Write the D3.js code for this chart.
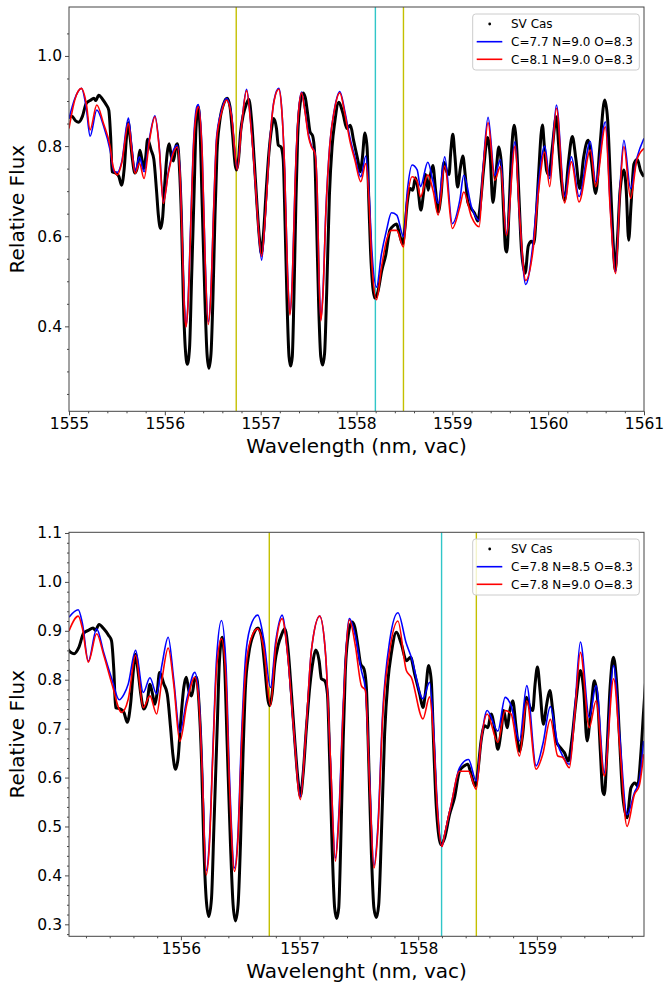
<!DOCTYPE html>
<html>
<head>
<meta charset="utf-8">
<script src="https://cdn.jsdelivr.net/npm/d3@7"></script>
<style>
  body { margin: 0; background: #fff; }
  svg { display: block; font-family: "DejaVu Sans", sans-serif; }
</style>
</head>
<body>
<svg id="chart" width="665" height="984"></svg>
<script>
// Observed spectrum (SV Cas), [wavelength nm, relative flux]
const svCas = [
  [1555.00,0.862],[1555.03,0.866],[1555.07,0.856],[1555.10,0.853],[1555.14,0.866],[1555.18,0.895],
  [1555.22,0.901],[1555.26,0.906],[1555.28,0.901],[1555.31,0.913],[1555.35,0.904],[1555.39,0.891],
  [1555.415,0.880],[1555.435,0.819],[1555.45,0.743],[1555.49,0.740],[1555.52,0.733],[1555.548,0.713],
  [1555.576,0.750],[1555.60,0.820],[1555.618,0.852],[1555.64,0.815],[1555.66,0.774],[1555.688,0.740],
  [1555.717,0.757],[1555.739,0.791],[1555.758,0.774],[1555.781,0.750],[1555.80,0.774],[1555.82,0.815],
  [1555.857,0.791],[1555.885,0.771],[1555.913,0.702],[1555.932,0.648],[1555.955,0.617],[1555.977,0.641],
  [1555.997,0.709],[1556.025,0.785],[1556.045,0.805],[1556.067,0.778],[1556.09,0.767],[1556.118,0.802],
  [1556.132,0.805],[1556.151,0.757],[1556.174,0.634],[1556.193,0.463],[1556.213,0.353],[1556.235,0.316],
  [1556.258,0.353],[1556.278,0.497],[1556.306,0.702],[1556.325,0.839],[1556.348,0.887],[1556.367,0.839],
  [1556.39,0.668],[1556.418,0.463],[1556.44,0.340],[1556.46,0.307],[1556.482,0.340],[1556.502,0.463],
  [1556.522,0.634],[1556.544,0.785],[1556.572,0.853],[1556.614,0.894],[1556.65,0.906],[1556.68,0.887],
  [1556.707,0.826],[1556.735,0.757],[1556.749,0.747],[1556.769,0.771],[1556.791,0.832],[1556.819,0.870],
  [1556.847,0.891],[1556.876,0.904],[1556.904,0.860],[1556.932,0.771],[1556.96,0.675],[1556.988,0.593],
  [1557.007,0.562],[1557.03,0.607],[1557.058,0.702],[1557.086,0.785],[1557.114,0.839],[1557.136,0.861],
  [1557.165,0.839],[1557.184,0.802],[1557.212,0.798],[1557.235,0.771],[1557.254,0.634],[1557.274,0.463],
  [1557.296,0.333],[1557.313,0.312],[1557.33,0.333],[1557.347,0.463],[1557.367,0.668],[1557.386,0.819],
  [1557.414,0.897],[1557.442,0.918],[1557.465,0.908],[1557.493,0.867],[1557.515,0.832],[1557.543,0.822],
  [1557.563,0.785],[1557.583,0.634],[1557.605,0.449],[1557.627,0.333],[1557.647,0.314],[1557.667,0.340],
  [1557.689,0.476],[1557.717,0.689],[1557.745,0.798],[1557.773,0.853],[1557.816,0.897],[1557.858,0.873],
  [1557.90,0.839],[1557.936,0.846],[1557.97,0.812],[1558.012,0.771],[1558.04,0.743],[1558.06,0.771],
  [1558.088,0.829],[1558.11,0.798],[1558.13,0.668],[1558.147,0.565],[1558.166,0.497],[1558.189,0.463],
  [1558.222,0.476],[1558.264,0.524],[1558.306,0.559],[1558.348,0.613],[1558.39,0.624],[1558.418,0.627],
  [1558.446,0.607],[1558.48,0.583],[1558.503,0.613],[1558.53,0.675],[1558.559,0.706],[1558.587,0.702],
  [1558.615,0.730],[1558.643,0.702],[1558.671,0.658],[1558.699,0.695],[1558.721,0.737],[1558.749,0.702],
  [1558.772,0.737],[1558.797,0.757],[1558.825,0.702],[1558.853,0.654],[1558.881,0.689],[1558.912,0.764],
  [1558.943,0.743],[1558.965,0.737],[1558.985,0.791],[1559.005,0.826],[1559.027,0.778],[1559.055,0.709],
  [1559.083,0.750],[1559.109,0.778],[1559.134,0.737],[1559.162,0.675],[1559.198,0.661],[1559.232,0.651],
  [1559.266,0.634],[1559.294,0.675],[1559.33,0.757],[1559.367,0.819],[1559.395,0.778],[1559.423,0.675],
  [1559.457,0.743],[1559.485,0.798],[1559.513,0.757],[1559.535,0.654],[1559.555,0.572],[1559.569,0.565],
  [1559.591,0.654],[1559.617,0.784],[1559.645,0.846],[1559.673,0.791],[1559.695,0.689],[1559.723,0.565],
  [1559.76,0.518],[1559.793,0.579],[1559.827,0.589],[1559.849,0.583],[1559.878,0.654],[1559.90,0.737],
  [1559.94,0.847],[1559.96,0.800],[1559.985,0.745],[1560.009,0.736],[1560.04,0.790],[1560.086,0.865],
  [1560.11,0.800],[1560.14,0.720],[1560.172,0.680],[1560.21,0.760],[1560.252,0.821],[1560.29,0.770],
  [1560.329,0.706],[1560.37,0.775],[1560.416,0.813],[1560.45,0.770],[1560.496,0.695],[1560.54,0.800],
  [1560.59,0.902],[1560.62,0.860],[1560.65,0.720],[1560.675,0.600],[1560.70,0.524],[1560.725,0.600],
  [1560.75,0.700],[1560.79,0.747],[1560.815,0.700],[1560.84,0.591],[1560.865,0.670],[1560.895,0.760],
  [1560.93,0.770],[1560.965,0.745],[1561.0,0.732]
];

// Top panel models
const topBlue = [
  [1555.00,0.861],[1555.06,0.905],[1555.13,0.928],[1555.18,0.885],[1555.22,0.822],[1555.29,0.880],
  [1555.36,0.845],[1555.43,0.790],[1555.47,0.743],[1555.505,0.742],[1555.55,0.765],[1555.62,0.862],
  [1555.655,0.800],[1555.69,0.745],[1555.735,0.776],[1555.783,0.743],[1555.84,0.818],[1555.897,0.867],
  [1555.943,0.795],[1555.984,0.676],[1556.036,0.742],[1556.088,0.790],[1556.13,0.802],[1556.158,0.745],
  [1556.18,0.610],[1556.20,0.470],[1556.22,0.400],[1556.24,0.445],[1556.27,0.630],[1556.30,0.810],
  [1556.335,0.888],[1556.35,0.892],[1556.39,0.785],[1556.42,0.555],[1556.453,0.410],[1556.48,0.475],
  [1556.51,0.665],[1556.54,0.820],[1556.59,0.878],[1556.644,0.906],[1556.697,0.868],[1556.756,0.750],
  [1556.80,0.845],[1556.853,0.926],[1556.90,0.842],[1556.95,0.700],[1556.975,0.620],[1557.01,0.547],
  [1557.05,0.650],[1557.10,0.822],[1557.14,0.902],[1557.189,0.928],[1557.22,0.882],[1557.25,0.750],
  [1557.28,0.525],[1557.305,0.428],[1557.33,0.505],[1557.36,0.725],[1557.39,0.862],[1557.427,0.920],
  [1557.46,0.882],[1557.50,0.825],[1557.531,0.800],[1557.566,0.786],[1557.59,0.700],[1557.61,0.505],
  [1557.628,0.415],[1557.65,0.475],[1557.68,0.655],[1557.72,0.800],[1557.77,0.882],[1557.826,0.921],
  [1557.88,0.875],[1557.93,0.820],[1557.983,0.776],[1558.045,0.732],[1558.097,0.778],[1558.13,0.700],
  [1558.16,0.570],[1558.209,0.487],[1558.26,0.560],[1558.313,0.613],[1558.365,0.652],[1558.42,0.647],
  [1558.49,0.599],[1558.53,0.700],[1558.58,0.758],[1558.633,0.747],[1558.667,0.710],[1558.744,0.764],
  [1558.80,0.720],[1558.852,0.673],[1558.921,0.776],[1559.0,0.628],[1559.078,0.680],[1559.119,0.735],
  [1559.2,0.665],[1559.28,0.635],[1559.32,0.750],[1559.373,0.864],[1559.442,0.735],[1559.502,0.770],
  [1559.564,0.606],[1559.655,0.810],[1559.70,0.650],[1559.766,0.493],[1559.842,0.584],[1559.90,0.720],
  [1559.964,0.800],[1560.016,0.728],[1560.086,0.891],[1560.172,0.688],[1560.242,0.776],[1560.322,0.688],
  [1560.44,0.810],[1560.496,0.721],[1560.597,0.854],[1560.65,0.660],[1560.704,0.521],[1560.75,0.710],
  [1560.79,0.813],[1560.86,0.706],[1560.925,0.773],[1561.0,0.817]
];
const topRed = [
  [1555.00,0.839],[1555.06,0.902],[1555.13,0.928],[1555.18,0.895],[1555.22,0.836],[1555.29,0.891],
  [1555.36,0.850],[1555.43,0.798],[1555.46,0.754],[1555.505,0.736],[1555.55,0.762],[1555.62,0.850],
  [1555.655,0.791],[1555.69,0.739],[1555.735,0.762],[1555.783,0.728],[1555.84,0.813],[1555.897,0.865],
  [1555.943,0.791],[1555.984,0.673],[1556.036,0.739],[1556.088,0.784],[1556.13,0.798],[1556.158,0.739],
  [1556.18,0.600],[1556.20,0.460],[1556.22,0.398],[1556.24,0.440],[1556.27,0.620],[1556.30,0.800],
  [1556.335,0.880],[1556.35,0.887],[1556.39,0.780],[1556.42,0.550],[1556.453,0.404],[1556.48,0.470],
  [1556.51,0.660],[1556.54,0.813],[1556.59,0.873],[1556.644,0.902],[1556.697,0.865],[1556.756,0.747],
  [1556.80,0.843],[1556.853,0.923],[1556.90,0.840],[1556.95,0.700],[1556.975,0.620],[1557.01,0.555],
  [1557.05,0.650],[1557.10,0.820],[1557.14,0.900],[1557.189,0.926],[1557.22,0.880],[1557.25,0.750],
  [1557.28,0.520],[1557.305,0.425],[1557.33,0.500],[1557.36,0.720],[1557.39,0.860],[1557.427,0.918],
  [1557.46,0.880],[1557.50,0.820],[1557.531,0.798],[1557.566,0.784],[1557.59,0.700],[1557.61,0.500],
  [1557.628,0.412],[1557.65,0.470],[1557.68,0.650],[1557.72,0.798],[1557.77,0.880],[1557.826,0.918],
  [1557.88,0.870],[1557.93,0.813],[1557.983,0.769],[1558.045,0.721],[1558.097,0.761],[1558.13,0.680],
  [1558.16,0.540],[1558.209,0.459],[1558.26,0.530],[1558.313,0.591],[1558.365,0.613],[1558.42,0.613],
  [1558.49,0.576],[1558.53,0.680],[1558.58,0.732],[1558.633,0.721],[1558.667,0.687],[1558.744,0.736],
  [1558.80,0.700],[1558.852,0.647],[1558.921,0.756],[1559.0,0.617],[1559.078,0.665],[1559.119,0.698],
  [1559.2,0.643],[1559.28,0.621],[1559.32,0.740],[1559.373,0.852],[1559.442,0.724],[1559.502,0.755],
  [1559.564,0.602],[1559.655,0.800],[1559.70,0.650],[1559.766,0.502],[1559.842,0.569],[1559.90,0.700],
  [1559.964,0.787],[1560.016,0.710],[1560.086,0.884],[1560.172,0.674],[1560.242,0.765],[1560.322,0.676],
  [1560.44,0.791],[1560.496,0.710],[1560.597,0.843],[1560.65,0.650],[1560.704,0.517],[1560.75,0.700],
  [1560.79,0.799],[1560.86,0.684],[1560.925,0.769],[1561.0,0.795]
];

// Bottom panel models
const botBlue = [
  [1555.057,0.928],[1555.135,0.943],[1555.17,0.915],[1555.22,0.838],[1555.29,0.904],[1555.35,0.855],
  [1555.42,0.800],[1555.48,0.759],[1555.52,0.770],[1555.556,0.791],[1555.618,0.860],[1555.683,0.774],
  [1555.739,0.804],[1555.795,0.771],[1555.84,0.830],[1555.893,0.887],[1555.94,0.800],[1555.991,0.692],
  [1556.05,0.760],[1556.117,0.815],[1556.15,0.770],[1556.18,0.620],[1556.213,0.410],[1556.24,0.470],
  [1556.27,0.660],[1556.30,0.840],[1556.342,0.921],[1556.38,0.830],[1556.41,0.600],[1556.452,0.415],
  [1556.48,0.480],[1556.51,0.680],[1556.55,0.860],[1556.60,0.918],[1556.648,0.932],[1556.70,0.880],
  [1556.755,0.784],[1556.80,0.880],[1556.853,0.932],[1556.90,0.850],[1556.95,0.700],[1557.007,0.562],
  [1557.05,0.680],[1557.10,0.860],[1557.17,0.930],[1557.22,0.850],[1557.26,0.640],[1557.302,0.435],
  [1557.33,0.520],[1557.37,0.760],[1557.42,0.925],[1557.47,0.890],[1557.521,0.819],[1557.555,0.781],
  [1557.59,0.600],[1557.627,0.420],[1557.66,0.500],[1557.70,0.730],[1557.76,0.880],[1557.829,0.937],
  [1557.90,0.874],[1557.942,0.846],[1558.04,0.761],[1558.096,0.795],[1558.13,0.700],[1558.16,0.550],
  [1558.20,0.459],[1558.222,0.483],[1558.278,0.545],[1558.348,0.620],[1558.424,0.637],[1558.489,0.593],
  [1558.53,0.675],[1558.581,0.737],[1558.671,0.695],[1558.733,0.764],[1558.783,0.747],[1558.853,0.675],
  [1558.915,0.788],[1558.994,0.624],[1559.05,0.668],[1559.114,0.745],[1559.176,0.668],[1559.218,0.644],
  [1559.274,0.627],[1559.32,0.740],[1559.367,0.877],[1559.442,0.723],[1559.499,0.788],[1559.569,0.610],
  [1559.647,0.829],[1559.70,0.680],[1559.76,0.524],[1559.822,0.569],[1559.863,0.593],[1559.90,0.675]
];
const botRed = [
  [1555.057,0.900],[1555.135,0.930],[1555.17,0.905],[1555.22,0.836],[1555.29,0.894],[1555.35,0.850],
  [1555.42,0.790],[1555.50,0.733],[1555.556,0.760],[1555.618,0.850],[1555.683,0.743],[1555.739,0.767],
  [1555.795,0.730],[1555.84,0.800],[1555.893,0.865],[1555.94,0.790],[1555.991,0.674],[1556.05,0.750],
  [1556.117,0.805],[1556.15,0.760],[1556.18,0.610],[1556.213,0.401],[1556.24,0.460],[1556.27,0.650],
  [1556.30,0.820],[1556.342,0.884],[1556.38,0.800],[1556.41,0.580],[1556.452,0.408],[1556.48,0.470],
  [1556.51,0.660],[1556.55,0.830],[1556.60,0.890],[1556.648,0.904],[1556.70,0.860],[1556.755,0.747],
  [1556.80,0.870],[1556.853,0.925],[1556.90,0.850],[1556.95,0.700],[1557.007,0.555],[1557.05,0.680],
  [1557.10,0.860],[1557.17,0.930],[1557.22,0.850],[1557.26,0.640],[1557.302,0.429],[1557.33,0.510],
  [1557.37,0.750],[1557.42,0.922],[1557.47,0.870],[1557.521,0.788],[1557.555,0.778],[1557.59,0.590],
  [1557.627,0.415],[1557.66,0.490],[1557.70,0.720],[1557.76,0.860],[1557.829,0.920],[1557.90,0.819],
  [1557.942,0.805],[1558.04,0.720],[1558.096,0.765],[1558.13,0.680],[1558.16,0.540],[1558.20,0.459],
  [1558.222,0.483],[1558.278,0.545],[1558.348,0.613],[1558.424,0.613],[1558.489,0.576],[1558.53,0.675],
  [1558.581,0.730],[1558.671,0.672],[1558.733,0.737],[1558.783,0.730],[1558.853,0.644],[1558.915,0.757],
  [1558.994,0.617],[1559.05,0.648],[1559.114,0.719],[1559.176,0.644],[1559.218,0.641],[1559.274,0.620],
  [1559.32,0.730],[1559.367,0.856],[1559.442,0.702],[1559.499,0.757],[1559.569,0.603],[1559.647,0.802],
  [1559.70,0.660],[1559.76,0.500],[1559.822,0.565],[1559.863,0.583],[1559.90,0.648]
];

// Marked line positions (nm) and colours
const markWaves = [1556.745, 1558.197, 1558.49];
const markColors = ["#c4c000", "#30c6c8", "#c4c000"];

const topLegend = ["SV Cas", "C=7.7 N=9.0 O=8.3", "C=8.1 N=9.0 O=8.3"];
const botLegend = ["SV Cas", "C=7.8 N=8.5 O=8.3", "C=7.8 N=9.0 O=8.3"];

const topXTicks = [1555, 1556, 1557, 1558, 1559, 1560, 1561];
const topYTicks = [0.4, 0.6, 0.8, 1.0];
const botXTicks = [1556, 1557, 1558, 1559];
const botYTicks = [0.3, 0.4, 0.5, 0.6, 0.7, 0.8, 0.9, 1.0, 1.1];

const svg = d3.select("#chart");

/**
 * Draws one spectrum panel
 * @param {Object} p panel settings
 */
function drawPanel(p) {
  const w = p.right - p.left;
  const h = p.bottom - p.top;
  const g = svg.append("g").attr("transform", "translate(" + p.left + "," + p.top + ")");

  const x = d3.scaleLinear().domain(p.xDomain).range([0, w]);
  const y = d3.scaleLinear().domain(p.yDomain).range([h, 0]);

  g.append("clipPath").attr("id", p.id + "-clip")
    .append("rect").attr("width", w).attr("height", h);
  const plot = g.append("g").attr("clip-path", "url(#" + p.id + "-clip)");

  // Vertical marker lines
  plot.selectAll(".mark")
    .data(markWaves)
    .enter()
    .append("line")
    .attr("x1", (d) => x(d))
    .attr("x2", (d) => x(d))
    .attr("y1", 0)
    .attr("y2", h)
    .attr("stroke", (d, i) => markColors[i])
    .attr("stroke-width", 1.4);

  const line = d3.line()
    .x((d) => x(d[0]))
    .y((d) => y(d[1]))
    .curve(d3.curveMonotoneX);

  // Observed spectrum
  plot.append("path")
    .datum(svCas)
    .attr("d", line)
    .attr("fill", "none")
    .attr("stroke", "#000")
    .attr("stroke-width", 3)
    .attr("stroke-linejoin", "round");

  // Models
  plot.append("path")
    .datum(p.blue)
    .attr("d", line)
    .attr("fill", "none")
    .attr("stroke", "#0000ff")
    .attr("stroke-width", 1.6);
  plot.append("path")
    .datum(p.red)
    .attr("d", line)
    .attr("fill", "none")
    .attr("stroke", "#ff0000")
    .attr("stroke-width", 1.6);

  // Axes
  const fmt = d3.format(".1f");
  const gx = g.append("g").attr("transform", "translate(0," + h + ")")
    .call(d3.axisBottom(x).tickValues(p.xTicks).tickFormat(d3.format("d")).tickSize(4).tickPadding(3));
  const gxm = g.append("g").attr("transform", "translate(0," + h + ")")
    .call(d3.axisBottom(x).tickValues(p.xMinor).tickFormat("").tickSize(2));
  const gy = g.append("g")
    .call(d3.axisLeft(y).tickValues(p.yTicks).tickFormat(fmt).tickSize(4).tickPadding(3));
  const gym = g.append("g")
    .call(d3.axisLeft(y).tickValues(p.yMinor).tickFormat("").tickSize(2));

  [gx, gxm, gy, gym].forEach(function (a) {
    a.select(".domain").remove();
    a.selectAll("line").attr("stroke", "#333").attr("stroke-width", 0.9);
    a.selectAll("text")
      .attr("font-family", "DejaVu Sans")
      .attr("font-size", 15.5)
      .attr("fill", "#000");
  });

  // Frame
  g.append("rect")
    .attr("width", w)
    .attr("height", h)
    .attr("fill", "none")
    .attr("stroke", "#444")
    .attr("stroke-width", 1);

  // Axis titles
  g.append("text")
    .attr("x", w / 2)
    .attr("y", h + 42)
    .attr("text-anchor", "middle")
    .attr("font-size", 20)
    .text(p.xLabel);
  g.append("text")
    .attr("text-anchor", "middle")
    .attr("transform", "translate(" + (-45) + "," + h / 2 + ")rotate(-90)")
    .attr("font-size", 20)
    .text("Relative Flux");

  // Legend
  const lg = g.append("g").attr("transform", "translate(" + (p.legendX - p.left) + "," + (p.legendY - p.top) + ")");
  lg.append("rect")
    .attr("width", 166.6)
    .attr("height", 56)
    .attr("rx", 3)
    .attr("fill", "#fff")
    .attr("fill-opacity", 0.8)
    .attr("stroke", "#ccc")
    .attr("stroke-width", 1);
  const rowY = [10, 27.7, 45.3];
  lg.append("circle")
    .attr("cx", 17)
    .attr("cy", rowY[0])
    .attr("r", 1.4)
    .attr("fill", "#000");
  lg.append("line")
    .attr("x1", 4).attr("x2", 29.6)
    .attr("y1", rowY[1]).attr("y2", rowY[1])
    .attr("stroke", "#0000ff").attr("stroke-width", 1.6);
  lg.append("line")
    .attr("x1", 4).attr("x2", 29.6)
    .attr("y1", rowY[2]).attr("y2", rowY[2])
    .attr("stroke", "#ff0000").attr("stroke-width", 1.6);
  lg.selectAll(".lt")
    .data(p.legend)
    .enter()
    .append("text")
    .attr("x", 38.3)
    .attr("y", (d, i) => rowY[i] + 4.3)
    .attr("font-size", 12)
    .text((d) => d);
}

drawPanel({
  id: "top",
  left: 69, right: 644, top: 7, bottom: 411.3,
  xDomain: [1555, 1561],
  yDomain: [0.2115, 1.1086],
  xTicks: topXTicks,
  xMinor: d3.range(1555.2, 1561, 0.2).filter((v) => Math.abs(v - Math.round(v)) > 0.01),
  yTicks: topYTicks,
  yMinor: d3.range(0.25, 1.1, 0.05).filter((v) => Math.abs(v * 5 - Math.round(v * 5)) > 0.01),
  blue: topBlue,
  red: topRed,
  legend: topLegend,
  legendX: 472.7, legendY: 14,
  xLabel: "Wavelength (nm, vac)"
});

drawPanel({
  id: "bot",
  left: 69, right: 644, top: 532.3, bottom: 936.3,
  xDomain: [1555.057, 1559.903],
  yDomain: [0.2755, 1.1014],
  xTicks: botXTicks,
  xMinor: d3.range(1555.2, 1559.9, 0.2).filter((v) => Math.abs(v - Math.round(v)) > 0.01),
  yTicks: botYTicks,
  yMinor: d3.range(0.28, 1.1, 0.02).filter((v) => Math.abs(v * 10 - Math.round(v * 10)) > 0.005),
  blue: botBlue,
  red: botRed,
  legend: botLegend,
  legendX: 472.7, legendY: 539,
  xLabel: "Wavelenght (nm, vac)"
});
</script>
</body>
</html>
